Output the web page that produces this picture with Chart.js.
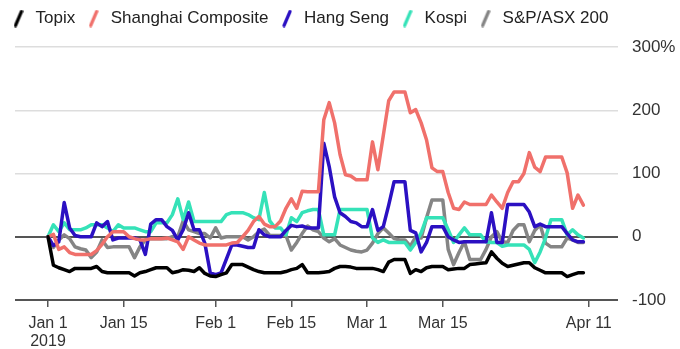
<!DOCTYPE html>
<html>
<head>
<meta charset="utf-8">
<script src="https://cdn.jsdelivr.net/npm/chart.js@4.4.1/dist/chart.umd.min.js"></script>
<style>
  html, body { margin: 0; padding: 0; background: #ffffff; }
  #wrap { width: 680px; height: 349px; }
</style>
</head>
<body>
<div id="wrap"><canvas id="c" width="680" height="349"></canvas></div>
<script>
// Days since Jan 1 2019 (x categories)
const days = Array.from({length: 100}, (_, i) => i);

const seriesNames = ['Topix', 'Shanghai Composite', 'Hang Seng', 'Kospi', 'S&P/ASX 200'];
const seriesColors = ['#000000', '#f0706b', '#2b10c2', '#35e2b8', '#858585'];

const topix = [0,-45,-49,-52,-55,-50,-50,-50,-50,-47, -55,-57,-57,-57,-57,-57,-62,-57,-55,-52,
  -49,-49,-49,-57,-55,-52,-53,-55,-49,-58, -62,-63,-60,-57,-44,-44,-44,-48,-52,-55,
  -57,-57,-57,-57,-55,-52,-50,-44,-57,-57, -57,-56,-55,-50,-47,-47,-48,-50,-50,-50,
  -50,-52,-55,-40,-36,-36,-36,-58,-52,-55, -49,-47,-47,-47,-52,-51,-50,-50,-44,-43,
  -42,-41,-24,-34,-42,-47,-45,-43,-41,-41, -49,-53,-57,-57,-57,-57,-63,-60,-57,-57];

const shanghai = [0,4,-20,-16,-25,-28,-28,-28,-28,-22, -12,0,8,8,8,0,-3,-5,-5,-3,
  -3,-3,-2,-5,-8,-20,0,-5,-10,-13, -13,-13,-13,-13,-10,-9,0,10,24,32,
  20,16,16,25,45,60,45,72,71,71, 71,185,212,180,130,98,96,90,90,90,
  150,106,160,215,229,229,229,196,201,180, 153,109,103,103,70,45,43,55,51,51,
  51,51,66,55,45,70,87,87,100,133, 110,103,126,126,126,126,101,45,66,50];

const hangSeng = [0,-14,-8,54,14,2,0,0,0,22, 16,24,-5,-2,-2,-2,-2,-5,-28,20,
  27,27,16,10,-5,11,38,11,11,-10, -57,-60,-57,-35,-13,-13,-15,-17,-17,11,
  3,0,0,0,10,18,16,17,14,14, 14,148,111,63,38,32,24,22,16,16,
  43,10,16,50,87,87,87,10,6,-24, -9,16,16,16,0,-5,-9,-8,-8,-8,
  -8,-8,38,-9,-9,51,51,51,51,39, 16,20,16,16,16,16,5,-5,-8,-8];

const kospi = [0,19,8,22,11,11,11,14,19,19, 19,14,8,19,14,14,14,11,8,8,
  22,22,22,35,60,27,55,24,24,24, 24,24,24,35,38,38,38,35,30,27,
  70,25,14,14,3,30,24,38,41,43, 43,3,3,3,43,43,43,43,43,43,
  -2,-9,-5,-9,-9,-9,-9,-21,-9,6, 30,30,30,30,11,-9,3,14,3,3,
  3,-8,-9,-9,-15,-13,-13,-13,-13,-20, -41,-24,-2,27,27,27,3,11,3,-2];

const asx = [0,-17,-5,3,-3,-16,-19,-21,-33,-24, -5,-17,-16,-16,-16,-16,-33,-16,-5,-3,
  -3,-3,-3,0,0,25,11,8,5,5, -2,14,-2,0,0,0,0,-5,0,8,
  12,2,2,2,2,-21,-9,5,17,11, 8,-2,-8,-3,-13,-17,-21,-23,-24,-21,
  -10,5,14,6,-3,-5,-5,-15,0,-2, 30,58,58,58,-20,-44,-25,-8,-36,-36,
  -36,-20,0,8,-8,-9,10,19,19,-8, 10,19,-10,-16,-16,-16,-2,-5,-9,-9];

const xTickDays = [0, 14, 31, 45, 59, 73, 100];
const xTickLabels = [['Jan 1', '2019'], 'Jan 15', 'Feb 1', 'Feb 15', 'Mar 1', 'Mar 15', 'Apr 11'];
const yTicks = [-100, 0, 100, 200, 300];
const yTickLabels = ['-100', '0', '100', '200', '300%'];

const FONT = "'Liberation Sans', Arial, Helvetica, sans-serif";

function legendIcon(color) {
  const c = document.createElement('canvas');
  c.width = 10; c.height = 18;
  const g = c.getContext('2d');
  g.strokeStyle = color;
  g.lineWidth = 3.2;
  g.lineCap = 'round';
  g.beginPath();
  g.moveTo(2, 16);
  g.lineTo(8, 2);
  g.stroke();
  return c;
}

const allSeries = [topix, shanghai, hangSeng, kospi, asx];
const datasets = allSeries.map((vals, i) => ({
  label: seriesNames[i],
  data: vals,
  xAxisID: 'x',
  yAxisID: 'y',
  borderColor: seriesColors[i],
  backgroundColor: seriesColors[i],
  borderWidth: 3.5,
  pointRadius: 0,
  pointHoverRadius: 0,
  pointStyle: legendIcon(seriesColors[i]),
  tension: 0,
  borderJoinStyle: 'round',
  borderCapStyle: 'round',
  fill: false
}));

new Chart(document.getElementById('c'), {
  type: 'line',
  data: { labels: days, datasets },
  options: {
    responsive: false,
    animation: false,
    events: [],
    layout: { padding: 0 },
    plugins: {
      legend: {
        display: true,
        position: 'top',
        align: 'start',
        labels: {
          usePointStyle: true,
          boxWidth: 23,
          padding: 10,
          color: '#222',
          font: { family: FONT, size: 17 }
        }
      },
      title: {
        display: true,
        text: '',
        weight: 0,
        padding: 0,
        font: { size: 10, lineHeight: 1 }
      },
      tooltip: { enabled: false }
    },
    scales: {
      x: {
        type: 'linear',
        min: -6.1,
        max: 105.4,
        afterBuildTicks: s => { s.ticks = xTickDays.map(v => ({ value: v })); },
        afterFit: s => { s.height = 49; },
        ticks: {
          autoSkip: false,
          maxRotation: 0,
          padding: 8,
          color: '#333',
          font: { family: FONT, size: 16, lineHeight: '18px' },
          callback: (v) => { const k = xTickDays.indexOf(v); return k >= 0 ? xTickLabels[k] : ''; }
        },
        grid: { drawOnChartArea: false, drawTicks: true, tickLength: 7, color: '#555', lineWidth: 1.5 },
        border: { display: false }
      },
      leftSpace: {
        type: 'linear',
        position: 'left',
        display: true,
        afterFit: s => { s.width = 15; },
        ticks: { display: false },
        grid: { display: false, drawTicks: false },
        border: { display: false }
      },
      y: {
        position: 'right',
        min: -100,
        max: 300,
        afterBuildTicks: s => { s.ticks = yTicks.map(v => ({ value: v })); },
        afterFit: s => { s.width = 62; },
        ticks: {
          padding: 14,
          color: '#333',
          font: { family: FONT, size: 17 },
          callback: (v) => { const k = yTicks.indexOf(v); return k >= 0 ? yTickLabels[k] : ''; }
        },
        grid: {
          drawTicks: false,
          color: c => (c.tick && (c.tick.value === 0 || c.tick.value === -100)) ? '#555' : '#dddddd',
          lineWidth: c => (c.tick && (c.tick.value === 0 || c.tick.value === -100)) ? 2 : 1.5
        },
        border: { display: false }
      }
    }
  }
});
</script>
</body>
</html>
